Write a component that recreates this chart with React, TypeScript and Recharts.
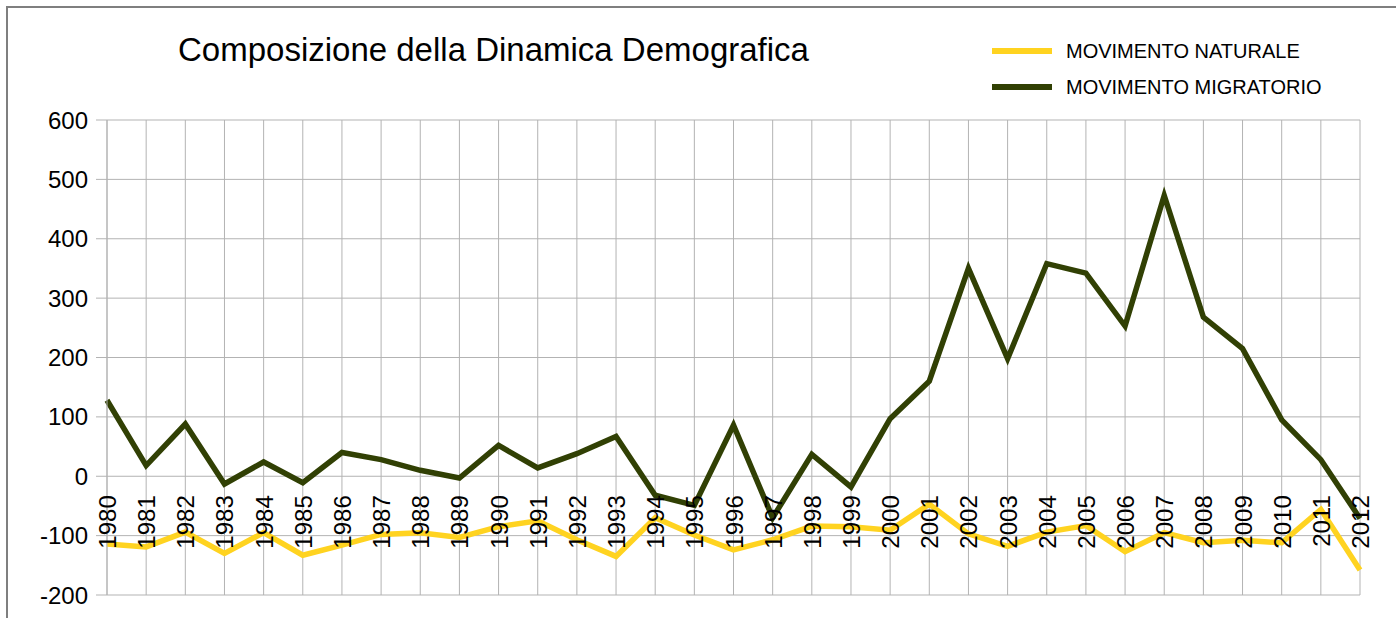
import React from "react";
import { LineChart, Line, XAxis, YAxis, CartesianGrid } from "recharts";

const years = [
  "1980", "1981", "1982", "1983", "1984", "1985", "1986", "1987", "1988", "1989",
  "1990", "1991", "1992", "1993", "1994", "1995", "1996", "1997", "1998", "1999",
  "2000", "2001", "2002", "2003", "2004", "2005", "2006", "2007", "2008", "2009",
  "2010", "2011", "2012",
];

const naturale = [
  -114, -119, -94, -130, -95, -133, -116, -98, -95, -103,
  -85, -75, -107, -135, -70, -99, -124, -107, -84, -85,
  -91, -47, -97, -118, -94, -83, -127, -95, -112, -108,
  -112, -56, -158,
];

const migratorio = [
  128, 18, 88, -13, 24, -11, 40, 28, 10, -3,
  52, 14, 38, 67, -32, -49, 86, -70, 37, -18,
  97, 160, 350, 198, 358, 342, 253, 473, 268, 215,
  95, 28, -71,
];

const yTicks = [-200, -100, 0, 100, 200, 300, 400, 500, 600];

const title = "Composizione della Dinamica Demografica";
const series = [
  { key: "naturale", name: "MOVIMENTO NATURALE", color: "#ffd320" },
  { key: "migratorio", name: "MOVIMENTO MIGRATORIO", color: "#314004" },
];
const FONT = "'Liberation Sans', Arial, sans-serif";

const W = 1396;
const H = 618;
const M = { top: 120, right: 36, bottom: 22, left: 0 };
const Y_MIN = -200;
const Y_MAX = 600;
const plotH = H - M.top - M.bottom - 1;
const zeroY = M.top + (plotH * Y_MAX) / (Y_MAX - Y_MIN);

const data = years.map((year, i) => ({
  year,
  naturale: naturale[i],
  migratorio: migratorio[i],
}));

// x labels sit just under the zero line, rotated
function YearTick(props: any) {
  const { x, payload } = props;
  return (
    <text
      transform={`translate(${x + 9},${zeroY + 19}) rotate(-90)`}
      textAnchor="end"
      fontSize={24}
      fontFamily={FONT}
      fill="#000"
    >
      {payload.value}
    </text>
  );
}

function LegendBox() {
  return (
    <div style={{ position: "absolute", left: 992, top: 33, fontFamily: FONT }}>
      {series.map((s) => (
        <div key={s.key} style={{ position: "relative", height: 36, width: 360 }}>
          <div
            style={{
              position: "absolute",
              left: 0,
              top: 15,
              width: 60,
              height: 6,
              background: s.color,
            }}
          />
          <div
            style={{
              position: "absolute",
              left: 74,
              top: 6,
              fontSize: 20,
              lineHeight: "24px",
              color: "#000",
              whiteSpace: "nowrap",
            }}
          >
            {s.name}
          </div>
        </div>
      ))}
    </div>
  );
}

export default function App() {
  return (
    <div
      style={{
        position: "absolute",
        left: 0,
        top: 0,
        width: W,
        height: H,
        overflow: "hidden",
        background: "#fff",
      }}
    >
      <div
        style={{
          position: "absolute",
          left: 6,
          top: 6,
          width: W + 20,
          height: H + 20,
          border: "2px solid #7f7f7f",
        }}
      />
      <div
        style={{
          position: "absolute",
          left: 178,
          top: 33,
          fontFamily: FONT,
          fontSize: 33,
          lineHeight: "33px",
          color: "#000",
          whiteSpace: "nowrap",
        }}
      >
        {title}
      </div>
      <LegendBox />
      <div style={{ position: "absolute", left: 0, top: 0 }}>
        <LineChart width={W} height={H} data={data} margin={M}>
          <CartesianGrid stroke="#b3b3b3" strokeWidth={1} />
          <YAxis
            domain={[Y_MIN, Y_MAX]}
            ticks={yTicks}
            type="number"
            width={107}
            interval={0}
            axisLine={{ stroke: "#b3b3b3" }}
            tickLine={{ stroke: "#b3b3b3" }}
            tickSize={11}
            tickMargin={8}
            tick={{ fontSize: 24, fontFamily: FONT, fill: "#000" }}
          />
          {series.map((s) => (
            <Line
              key={s.key}
              dataKey={s.key}
              name={s.name}
              stroke={s.color}
              strokeWidth={5.5}
              dot={false}
              activeDot={false}
              isAnimationActive={false}
            />
          ))}
          <XAxis
            dataKey="year"
            interval={0}
            height={1}
            axisLine={false}
            tickLine={false}
            tick={<YearTick />}
          />
        </LineChart>
      </div>
    </div>
  );
}
